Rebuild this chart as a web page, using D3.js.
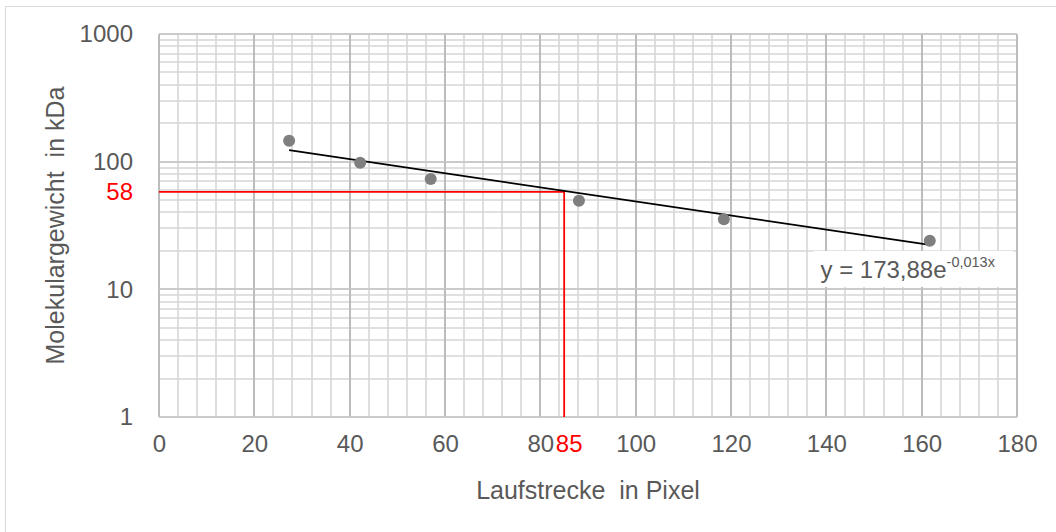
<!DOCTYPE html>
<html>
<head>
<meta charset="utf-8">
<script src="https://cdn.jsdelivr.net/npm/d3@7"></script>
<style>
  body { margin: 0; background: #fff; }
  text { font-family: "Liberation Sans", Arial, sans-serif; }
</style>
</head>
<body>
<div id="chart"></div>
<script>
// measured bands
const distances = [27.3, 42.2, 57.0, 88.1, 118.5, 161.7];
const weights = [146, 98, 73, 49.5, 35.4, 24.0];

// exponential trendline y = a * e^(b x)
const trendA = 173.88;
const trendB = -0.0127;

// read-off marker
const readX = 85;
const readY = 58;

const xTicks = [0, 20, 40, 60, 80, 100, 120, 140, 160, 180];
const yTicks = [1, 10, 100, 1000];

const width = 1056;
const height = 532;
const margin = {top: 34, right: 39, bottom: 115, left: 159};

const svg = d3.select("#chart").append("svg")
    .attr("width", width)
    .attr("height", height);

svg.append("rect")
    .attr("x", 5.5).attr("y", 6.5)
    .attr("width", width + 10).attr("height", height + 10)
    .attr("fill", "#fff")
    .attr("stroke", "#d9d9d9");

const x = d3.scaleLinear([0, 180], [margin.left, width - margin.right]);
const y = d3.scaleLog([1, 1000], [height - margin.bottom, margin.top]);

const grid = svg.append("g");

// minor grid
grid.selectAll("line.vminor")
    .data(d3.range(0, 181, 4))
    .join("line")
    .attr("x1", d => Math.round(x(d)))
    .attr("x2", d => Math.round(x(d)))
    .attr("y1", y(1000)).attr("y2", y(1))
    .attr("stroke", "#d6d6d6")
    .attr("stroke-width", 1.6);

grid.selectAll("line.hminor")
    .data(y.ticks())
    .join("line")
    .attr("x1", x(0)).attr("x2", x(180))
    .attr("y1", d => Math.round(y(d)))
    .attr("y2", d => Math.round(y(d)))
    .attr("stroke", "#d6d6d6")
    .attr("stroke-width", 1.6);

// major grid
grid.append("g").selectAll("line")
    .data(xTicks)
    .join("line")
    .attr("x1", d => Math.round(x(d)))
    .attr("x2", d => Math.round(x(d)))
    .attr("y1", y(1000)).attr("y2", y(1))
    .attr("stroke", "#b4b4b4")
    .attr("stroke-width", 1.6);

grid.append("g").selectAll("line")
    .data(yTicks)
    .join("line")
    .attr("x1", x(0)).attr("x2", x(180))
    .attr("y1", d => Math.round(y(d)))
    .attr("y2", d => Math.round(y(d)))
    .attr("stroke", "#c4c4c4")
    .attr("stroke-width", 1.6);

// axes
const xAxis = svg.append("g")
    .attr("transform", `translate(0, ${y(1) + 18})`)
    .call(d3.axisBottom(x).tickValues(xTicks).tickSize(0).tickPadding(0));
xAxis.select(".domain").remove();
xAxis.selectAll("text")
    .attr("font-size", 24)
    .attr("fill", "#595959")
    .attr("font-family", "Liberation Sans, Arial, sans-serif");

const yAxis = svg.append("g")
    .attr("transform", `translate(${x(0) - 26}, 0)`)
    .call(d3.axisLeft(y).tickValues(yTicks).tickFormat(d3.format("d")).tickSize(0).tickPadding(0));
yAxis.select(".domain").remove();
yAxis.selectAll("text")
    .attr("font-size", 24)
    .attr("fill", "#595959")
    .attr("font-family", "Liberation Sans, Arial, sans-serif");

// red read-off lines
svg.append("path")
    .attr("d", `M${x(0)},${y(readY)}H${x(readX)}V${y(1)}`)
    .attr("fill", "none")
    .attr("stroke", "#ff0000")
    .attr("stroke-width", 1.8);

svg.append("text")
    .attr("x", x(readX) + 5)
    .attr("y", y(1) + 18)
    .attr("dy", "0.71em")
    .attr("text-anchor", "middle")
    .attr("font-size", 24)
    .attr("fill", "#ff0000")
    .text(readX);

svg.append("text")
    .attr("x", x(0) - 26)
    .attr("y", y(readY))
    .attr("dy", "0.32em")
    .attr("text-anchor", "end")
    .attr("font-size", 24)
    .attr("fill", "#ff0000")
    .text(readY);

// trendline
const x0 = d3.min(distances), x1 = d3.max(distances);
svg.append("path")
    .datum([x0, x1])
    .attr("d", d3.line()
        .x(d => x(d))
        .y(d => y(trendA * Math.exp(trendB * d))))
    .attr("fill", "none")
    .attr("stroke", "#000")
    .attr("stroke-width", 1.8);

// points
svg.append("g").selectAll("circle")
    .data(distances)
    .join("circle")
    .attr("cx", d => x(d))
    .attr("cy", (d, i) => y(weights[i]))
    .attr("r", 6)
    .attr("fill", "#7f7f7f");

// equation label
const eq = svg.append("g").attr("transform", `translate(${x(137.3)}, ${y(20)})`);
eq.append("rect")
    .attr("x", 0).attr("y", 0)
    .attr("width", 200).attr("height", 36)
    .attr("fill", "#fff");
const eqText = eq.append("text")
    .attr("x", 7).attr("y", 27)
    .attr("font-size", 24)
    .attr("fill", "#595959");
eqText.append("tspan").text("y = 173,88e");
eqText.append("tspan")
    .attr("font-size", 14.5)
    .attr("dy", -11)
    .text("-0,013x");

// axis titles
svg.append("text")
    .attr("x", (x(0) + x(180)) / 2)
    .attr("y", 499)
    .attr("text-anchor", "middle")
    .attr("font-size", 25)
    .attr("fill", "#595959")
    .attr("xml:space", "preserve")
    .text("Laufstrecke  in Pixel");

svg.append("text")
    .attr("transform", `translate(64, ${(y(1) + y(1000)) / 2}) rotate(-90)`)
    .attr("text-anchor", "middle")
    .attr("font-size", 25)
    .attr("fill", "#595959")
    .attr("xml:space", "preserve")
    .text("Molekulargewicht  in kDa");
</script>
</body>
</html>
